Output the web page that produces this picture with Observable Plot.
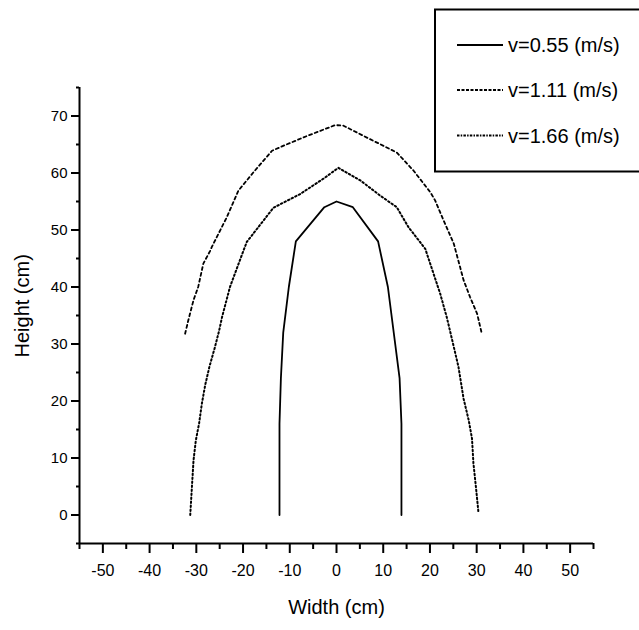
<!DOCTYPE html>
<html>
<head>
<meta charset="utf-8">
<script src="https://cdn.jsdelivr.net/npm/d3@7"></script>
<script src="https://cdn.jsdelivr.net/npm/@observablehq/plot@0.6"></script>
<style>
  html, body { margin: 0; padding: 0; background: #fff; }
  svg { display: block; }
</style>
</head>
<body>
<div id="chart"></div>
<script>
// ---- Data ----
const seriesNames = ["v=0.55 (m/s)", "v=1.11 (m/s)", "v=1.66 (m/s)"];

// v=0.55 (solid, innermost)
const width055 = [-12.2, -12.2, -11.9, -11.4, -10.2, -8.7, -2.6, 0.0, 3.5, 8.9, 11.0, 13.5, 13.9, 13.9];
const height055 = [0, 16, 24, 32, 40, 48, 54, 55, 54, 48, 40, 24, 16, 0];

// v=1.11 (dashed, outermost)
const width111 = [-32.4, -31.7, -30.6, -29.6, -28.5, -27.0, -26.7, -23.5, -21.0, -17.8, -13.8, -11.3, -6.3, -0.3, 1.5, 5.8, 12.9, 16.5, 20.1, 21.1, 22.9, 25.1, 27.2, 28.6, 30.1, 31.1];
const height111 = [31.8, 34.2, 37.7, 40.0, 44.1, 46.4, 47.0, 52.2, 56.9, 60.1, 63.9, 64.8, 66.5, 68.4, 68.3, 66.5, 63.6, 60.4, 56.6, 55.2, 51.7, 47.6, 41.2, 38.2, 35.3, 31.8];

// v=1.66 (dotted, middle)
const width166 = [-31.3, -30.6, -30.1, -29.4, -28.8, -28.1, -27.2, -26.0, -25.1, -24.5, -22.8, -19.9, -19.2, -13.5, -7.8, -2.8, 0.4, 5.1, 9.4, 12.9, 15.4, 19.0, 22.2, 23.6, 25.1, 26.1, 27.2, 28.3, 29.0, 29.3, 29.9, 30.4];
const height166 = [0, 9.6, 13.1, 16.1, 19.6, 22.8, 26.0, 29.5, 32.4, 34.7, 40.0, 46.4, 47.9, 53.9, 56.3, 59.0, 60.9, 58.7, 56.0, 54.0, 50.5, 46.7, 38.8, 34.7, 29.5, 26.0, 20.4, 16.6, 13.4, 9.1, 4.4, 0.3];

// Tick values
const xMajorTicks = [-50, -40, -30, -20, -10, 0, 10, 20, 30, 40, 50];
const xMinorTicks = [-55, -45, -35, -25, -15, -5, 5, 15, 25, 35, 45, 55];
const yMajorTicks = [0, 10, 20, 30, 40, 50, 60, 70];
const yMinorTicks = [-5, 5, 15, 25, 35, 45, 55, 65, 75];
const xLabel = "Width (cm)";
const yLabel = "Height (cm)";

// ---- Build tables ----
const toRows = (xs, ys) => xs.map((x, i) => ({x, y: ys[i]}));
const d055 = toRows(width055, height055);
const d111 = toRows(width111, height111);
const d166 = toRows(width166, height166);

const styles = [
  {dash: null, w: 1.8},
  {dash: "3,3", w: 1.8},
  {dash: "1.5,2.5", w: 2}
];

const FONT = "'Liberation Sans', Arial, Helvetica, sans-serif";
const fmt = d => String(d);

const svg = Plot.plot({
  width: 639,
  height: 630,
  marginLeft: 79,
  marginRight: 46,
  marginTop: 87,
  marginBottom: 87,
  style: {fontFamily: FONT, background: "#fff", color: "#000", overflow: "visible"},
  x: {domain: [-55, 55]},
  y: {domain: [-5, 75]},
  marks: [
    Plot.axisX({ticks: xMajorTicks, tickSize: 10, tickPadding: 11, fontSize: 16, tickFormat: fmt, label: null, strokeWidth: 2, stroke: "#000", fill: "#000"}),
    Plot.axisX({ticks: xMinorTicks, tickSize: 6, tickFormat: () => "", label: null, strokeWidth: 2, stroke: "#000"}),
    Plot.axisY({ticks: yMajorTicks, tickSize: 8, tickPadding: 4, fontSize: 15, tickFormat: fmt, label: null, strokeWidth: 2, stroke: "#000", fill: "#000"}),
    Plot.axisY({ticks: yMinorTicks, tickSize: 3, tickFormat: () => "", label: null, strokeWidth: 2, stroke: "#000"}),
    Plot.ruleY([-5], {stroke: "#000", strokeWidth: 2}),
    Plot.ruleX([-55], {stroke: "#000", strokeWidth: 2}),
    Plot.line(d055, {x: "x", y: "y", stroke: "#000", strokeWidth: styles[0].w}),
    Plot.line(d111, {x: "x", y: "y", stroke: "#000", strokeWidth: styles[1].w, strokeDasharray: styles[1].dash}),
    Plot.line(d166, {x: "x", y: "y", stroke: "#000", strokeWidth: styles[2].w, strokeDasharray: styles[2].dash}),
    Plot.text([xLabel], {frameAnchor: "bottom", dy: 70, fontSize: 20, fill: "#000"}),
    Plot.text([yLabel], {frameAnchor: "left", dx: -57, dy: 42, rotate: -90, fontSize: 20, fill: "#000"})
  ]
});

// ---- Legend (boxed, top right) ----
const g = d3.select(svg).append("g")
  .attr("font-family", FONT)
  .attr("text-anchor", "start");
g.append("rect")
  .attr("x", 435).attr("y", 9.5)
  .attr("width", 215).attr("height", 162)
  .attr("fill", "#fff").attr("stroke", "#000").attr("stroke-width", 2);
const legendRows = [45, 90, 135.5];
const legendDash = [null, "3,1.5", "2.5,1.2,1.5,1.2"];
seriesNames.forEach((name, i) => {
  g.append("line")
    .attr("x1", 457).attr("x2", 503)
    .attr("y1", legendRows[i]).attr("y2", legendRows[i])
    .attr("stroke", "#000").attr("stroke-width", 1.8)
    .attr("stroke-dasharray", legendDash[i]);
  g.append("text")
    .attr("x", 508).attr("y", legendRows[i])
    .attr("dy", "0.35em")
    .attr("font-size", 20)
    .attr("fill", "#000")
    .attr("text-anchor", "start")
    .text(name);
});

document.getElementById("chart").appendChild(svg);
</script>
</body>
</html>
